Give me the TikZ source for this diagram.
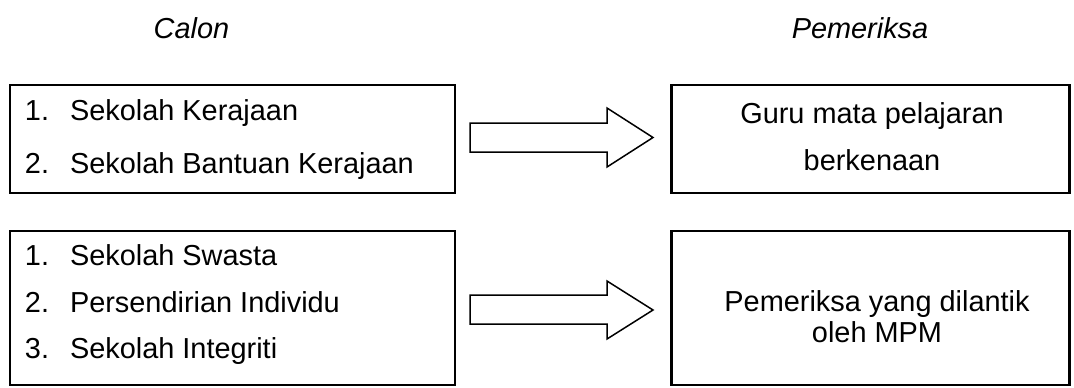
\documentclass[tikz,border=0pt]{standalone}
\usepackage{fontspec}
\setmainfont{Liberation Sans}
\begin{document}
\begin{tikzpicture}[x=0.5pt,y=-0.5pt,
  every node/.style={font=\fontsize{14.45}{17}\selectfont, inner sep=0pt, outer sep=0pt},
  box/.style={draw, line width=1.2pt, rectangle},
  head/.style={anchor=base, font=\fontsize{14.45}{17}\selectfont\itshape},
  item/.style={anchor=base west},
  ctext/.style={anchor=base},
  blockarrow/.style={draw, line width=0.75pt, line join=miter, fill=white}]
\useasboundingbox (0,0) rectangle (1074,387);
% headers
\node[head] (hcalon) at (191.5,38) {Calon};
\node[head] (hpem) at (860,38) {Pemeriksa};
% boxes
\node[box, minimum width=222.5pt, minimum height=54pt] (bl1) at (232.5,139) {};
\node[box, minimum width=199pt, minimum height=54pt] (br1) at (870.5,139) {};
\node[box, minimum width=222.5pt, minimum height=77pt] (bl2) at (232.5,308) {};
\node[box, minimum width=199pt, minimum height=77pt] (br2) at (870.5,308) {};
% left top texts
\node[item] (n11) at (25,120) {1.};
\node[item] (t11) at (70,120) {Sekolah Kerajaan};
\node[item] (n12) at (25,173) {2.};
\node[item] (t12) at (70,173) {Sekolah Bantuan Kerajaan};
% left bottom texts
\node[item] (n21) at (25,265) {1.};
\node[item] (t21) at (70,265) {Sekolah Swasta};
\node[item] (n22) at (25,312) {2.};
\node[item] (t22) at (70,312) {Persendirian Individu};
\node[item] (n23) at (25,358) {3.};
\node[item] (t23) at (70,358) {Sekolah Integriti};
% right texts
\node[ctext] (r11) at (872,123) {Guru mata pelajaran};
\node[ctext] (r12) at (872,170) {berkenaan};
\node[ctext] (r21) at (877,311) {Pemeriksa yang dilantik};
\node[ctext] (r22) at (877,342) {oleh MPM};
% block arrows
\draw[blockarrow] (470,123) -- (607,123) -- (607,108) -- (653,137.5) -- (607,167) -- (607,152) -- (470,152) -- cycle;
\draw[blockarrow] (470,295) -- (607,295) -- (607,281) -- (653,310) -- (607,339) -- (607,324) -- (470,324) -- cycle;
\end{tikzpicture}
\end{document}
